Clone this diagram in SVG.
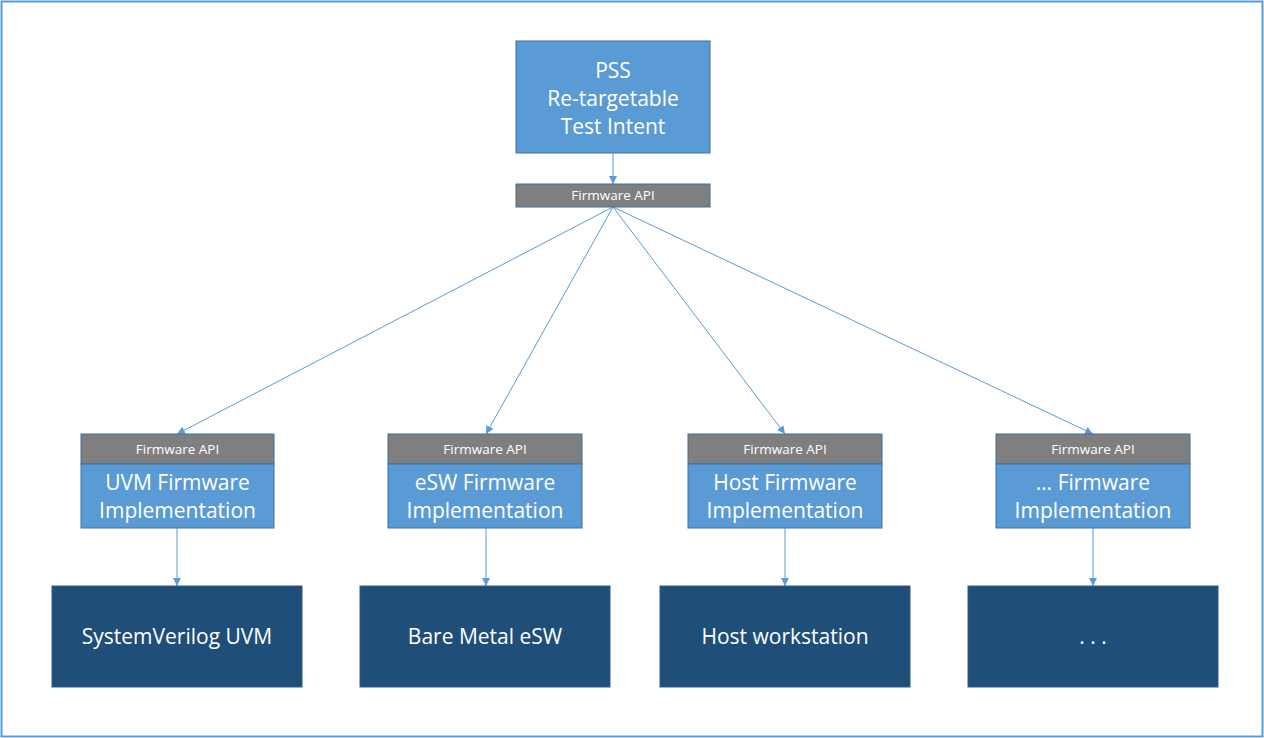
<svg xmlns="http://www.w3.org/2000/svg" width="1264" height="738" viewBox="0 0 1264 738">
<defs>
<marker id="ah" viewBox="0 0 10 10" refX="10" refY="5" markerWidth="8" markerHeight="8" markerUnits="userSpaceOnUse" orient="auto">
<path d="M0,0 L10,5 L0,10 z" fill="#5B9BD5"/>
</marker>
<style>
.blue{fill:#5B9BD5;stroke:#41719C;stroke-width:1}
.api{fill:#7F7F7F;stroke:#41719C;stroke-width:1}
.dark{fill:#1F4E79;stroke:#2E5C8A;stroke-width:1}
.t{font-family:"Open Sans","Noto Sans",sans-serif;fill:#FFFFFF;text-anchor:middle}
.big{font-size:21px}
.small{font-size:13.5px}
.c{stroke:#5B9BD5;stroke-width:1;fill:none;marker-end:url(#ah)}
</style>
</defs>
<rect x="1.5" y="1.5" width="1261" height="735" fill="#FFFFFF" stroke="#5B9BD5" stroke-width="2"/>
<g id="connectors">
<line class="c" x1="613" y1="153" x2="613" y2="184"/>
<line class="c" x1="613" y1="207" x2="177" y2="434"/>
<line class="c" x1="613" y1="207" x2="486" y2="434"/>
<line class="c" x1="613" y1="207" x2="785" y2="434"/>
<line class="c" x1="613" y1="207" x2="1093" y2="434"/>
<line class="c" x1="177" y1="528" x2="177" y2="586"/>
<line class="c" x1="486" y1="528" x2="486" y2="586"/>
<line class="c" x1="785" y1="528" x2="785" y2="586"/>
<line class="c" x1="1093" y1="528" x2="1093" y2="586"/>
</g>
<g id="pss">
<rect class="blue" x="516" y="41" width="194" height="112"/>
<text class="t big" x="613" y="78">PSS</text>
<text class="t big" x="613" y="106">Re-targetable</text>
<text class="t big" x="613" y="134">Test Intent</text>
</g>
<g id="api-top">
<rect class="api" x="516" y="184" width="194" height="23"/>
<text class="t small" x="613" y="200">Firmware API</text>
</g>
<g id="uvm-fw">
<rect class="api" x="81" y="434" width="193" height="30"/>
<text class="t small" x="177.5" y="454">Firmware API</text>
<rect class="blue" x="81" y="464" width="193" height="64"/>
<text class="t big" x="177.5" y="490">UVM Firmware</text>
<text class="t big" x="177.5" y="518">Implementation</text>
</g>
<g id="esw-fw">
<rect class="api" x="388" y="434" width="194" height="30"/>
<text class="t small" x="485" y="454">Firmware API</text>
<rect class="blue" x="388" y="464" width="194" height="64"/>
<text class="t big" x="485" y="490">eSW Firmware</text>
<text class="t big" x="485" y="518">Implementation</text>
</g>
<g id="host-fw">
<rect class="api" x="688" y="434" width="194" height="30"/>
<text class="t small" x="785" y="454">Firmware API</text>
<rect class="blue" x="688" y="464" width="194" height="64"/>
<text class="t big" x="785" y="490">Host Firmware</text>
<text class="t big" x="785" y="518">Implementation</text>
</g>
<g id="other-fw">
<rect class="api" x="996" y="434" width="194" height="30"/>
<text class="t small" x="1093" y="454">Firmware API</text>
<rect class="blue" x="996" y="464" width="194" height="64"/>
<text class="t big" x="1093" y="490">… Firmware</text>
<text class="t big" x="1093" y="518">Implementation</text>
</g>
<g id="sv-uvm">
<rect class="dark" x="52" y="586" width="250" height="101"/>
<text class="t big" x="177" y="644">SystemVerilog UVM</text>
</g>
<g id="bare-metal">
<rect class="dark" x="360" y="586" width="250" height="101"/>
<text class="t big" x="485" y="644">Bare Metal eSW</text>
</g>
<g id="host-ws">
<rect class="dark" x="660" y="586" width="250" height="101"/>
<text class="t big" x="785" y="644">Host workstation</text>
</g>
<g id="other">
<rect class="dark" x="968" y="586" width="250" height="101"/>
<text class="t big" x="1093" y="644">. . .</text>
</g>
</svg>
